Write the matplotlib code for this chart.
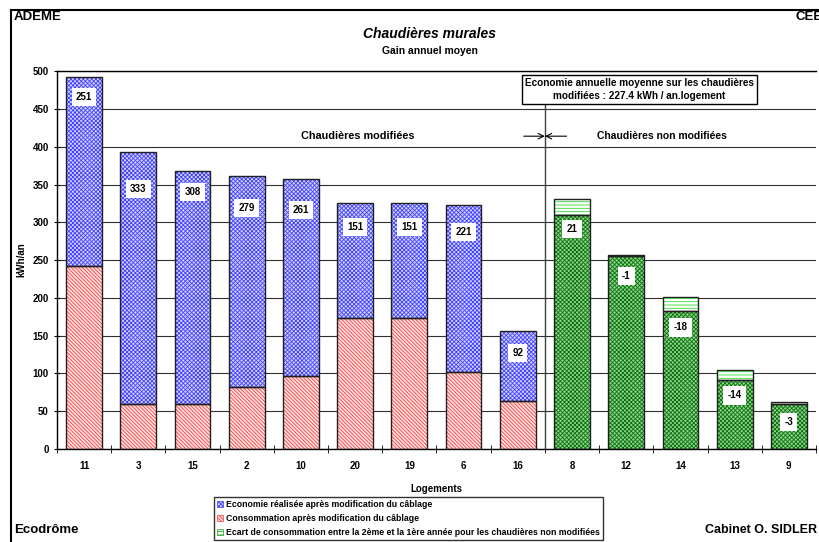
import matplotlib.pyplot as plt
from matplotlib.patches import Patch

plt.rcParams['font.family'] = ['Liberation Sans', 'DejaVu Sans']
plt.rcParams['font.weight'] = 'bold'
plt.rcParams['hatch.linewidth'] = 0.6

# Donnees
logements = ['11', '3', '15', '2', '10', '20', '19', '6', '16', '8', '12', '14', '13', '9']
conso_modif = [242, 60, 59, 82, 97, 174, 174, 102, 64]
economie = [250, 333, 309, 279, 261, 152, 151, 221, 92]
economie_txt = ['251', '333', '308', '279', '261', '151', '151', '221', '92']
conso_non_modif = [310, 256, 183, 91, 59]
ecart = [21, -1, -18, -14, -3]
label_y = [466, 344, 340, 319, 316, 294, 294, 287, 127, 291, 229, 161, 71, 36]

n_modif = len(conso_modif)
x_modif = list(range(n_modif))
x_non = list(range(n_modif, len(logements)))
width = 0.66

fig = plt.figure(figsize=(8.19, 5.42), dpi=100)
ax = fig.add_axes([0.0696, 0.1716, 0.9267, 0.697])


def hatched_bar(x, h, bottom, face, hcol, hatch):
    ax.bar(x, h, width, bottom=bottom, color=face, edgecolor=hcol, hatch=hatch, linewidth=0, zorder=2)
    ax.bar(x, h, width, bottom=bottom, fill=False, edgecolor='#202020', linewidth=1, zorder=3)


# Chaudieres modifiees
hatched_bar(x_modif, conso_modif, 0, '#ffe4e4', '#ff3838', '\\' * 9)
hatched_bar(x_modif, economie, conso_modif, '#d4d4ff', '#4040ff', 'x' * 8)

# Chaudieres non modifiees
hatched_bar(x_non, conso_non_modif, 0, '#90d490', '#0a700a', 'x' * 8)
hatched_bar(x_non, [abs(e) for e in ecart], conso_non_modif, 'white', '#30e030', '-' * 5)

# Etiquettes
textes = economie_txt + [str(e) for e in ecart]
for i, t in enumerate(textes):
    ax.text(i, label_y[i], t, ha='center', va='center', fontsize=7, fontweight='bold',
            bbox=dict(facecolor='white', edgecolor='none', pad=3), zorder=4)

ax.set_xlim(-0.5, len(logements) - 0.5)
ax.set_ylim(0, 500)
ax.set_yticks(range(0, 501, 50))
ax.yaxis.grid(True, color='#303030', linewidth=0.8)
ax.set_axisbelow(True)
ax.set_xticks(range(len(logements)))
ax.set_xticklabels(logements, fontsize=7, fontweight='bold')
ax.set_xticks([i + 0.5 for i in range(-1, len(logements))], minor=True)
ax.tick_params(axis='x', which='major', length=0, pad=9)
ax.tick_params(axis='x', which='minor', length=6, direction='inout')
ax.tick_params(axis='y', length=5, direction='inout', labelsize=7)
for lab in ax.get_yticklabels():
    lab.set_fontweight('bold')
for s in ax.spines.values():
    s.set_linewidth(1)
ax.spines['right'].set_visible(False)
ax.set_xlabel('Logements', fontsize=7, fontweight='bold', labelpad=9)
ax.set_ylabel('kWh/an', fontsize=7, fontweight='bold', labelpad=4)

# Separation et annotations
ax.plot([n_modif - 0.5, n_modif - 0.5], [0, 456], color='#404040', linewidth=1, zorder=1)
ax.annotate('', xy=(n_modif - 0.5, 414), xytext=(n_modif - 0.89, 414),
            arrowprops=dict(arrowstyle='->', color='black', linewidth=0.8, shrinkA=0, shrinkB=0))
ax.annotate('', xy=(n_modif - 0.5, 414), xytext=(n_modif - 0.1, 414),
            arrowprops=dict(arrowstyle='->', color='black', linewidth=0.8, shrinkA=0, shrinkB=0))
ax.text(5.05, 414, 'Chaudières modifiées', ha='center', va='center', fontsize=7.8, fontweight='bold')
ax.text(10.66, 414, 'Chaudières non modifiées', ha='center', va='center', fontsize=7.5, fontweight='bold')
ax.text(10.24, 476, 'Economie annuelle moyenne sur les chaudières\nmodifiées : 227.4 kWh / an.logement',
        ha='center', va='center', fontsize=7.2, fontweight='bold', linespacing=1.3,
        bbox=dict(facecolor='white', edgecolor='black', linewidth=1, boxstyle='square,pad=0.3'), zorder=5)

# Titres et cadre
fig.text(0.525, 0.937, 'Chaudières murales', ha='center', va='center', fontsize=10,
         fontweight='bold', style='italic')
fig.text(0.525, 0.906, 'Gain annuel moyen', ha='center', va='center', fontsize=7.5, fontweight='bold')
fig.text(0.017, 0.968, 'ADEME', ha='left', va='center', fontsize=9.5, fontweight='bold')
fig.text(0.971, 0.968, 'CEE', ha='left', va='center', fontsize=9.5, fontweight='bold')
fig.text(0.017, 0.022, 'Ecodrôme', ha='left', va='center', fontsize=9.5, fontweight='bold')
fig.text(0.998, 0.022, 'Cabinet O. SIDLER', ha='right', va='center', fontsize=9, fontweight='bold')
fig.add_artist(plt.Line2D([0.0134, 0.0134], [0, 0.982], color='black', linewidth=1.5))
fig.add_artist(plt.Line2D([0.0134, 1], [0.982, 0.982], color='black', linewidth=1.5))

handles = [
    Patch(facecolor='#d4d4ff', edgecolor='#4040ff', hatch='x' * 8, linewidth=0.5),
    Patch(facecolor='#ffe4e4', edgecolor='#ff3838', hatch='\\' * 9, linewidth=0.5),
    Patch(facecolor='white', edgecolor='#10a010', hatch='-' * 5, linewidth=0.5),
]
noms = ['Economie réalisée après modification du câblage',
        'Consommation après modification du câblage',
        'Ecart de consommation entre la 2ème et la 1ère année pour les chaudières non modifiées']
leg = fig.legend(handles, noms, loc='lower left', bbox_to_anchor=(0.261, 0.004), fontsize=6.3,
                 frameon=True, fancybox=False, edgecolor='black', handlelength=0.75, handleheight=0.75,
                 handletextpad=0.25, labelspacing=0.55, borderpad=0.35, borderaxespad=0)
leg.get_frame().set_linewidth(1)
for t in leg.get_texts():
    t.set_fontweight('bold')

fig.savefig('out.png', dpi=100)
